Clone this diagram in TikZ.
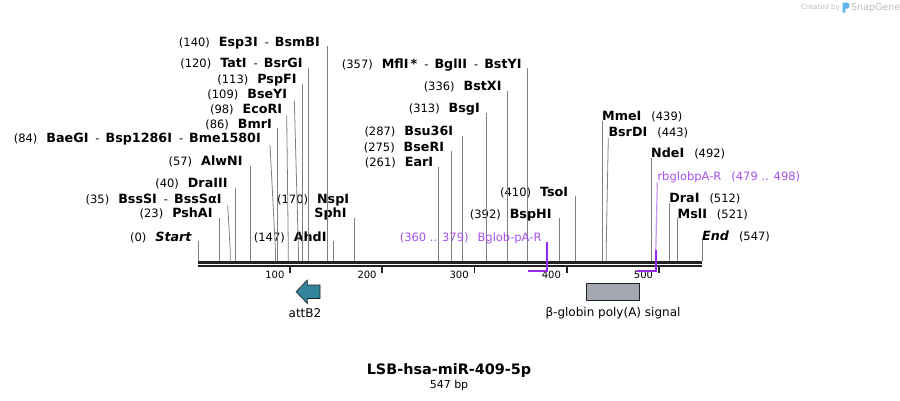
\documentclass[tikz,border=0pt]{standalone}
\usepackage{fontspec}
\setmainfont{DejaVu Sans}
\usepackage{xcolor}
\usepackage{tikz}
\usetikzlibrary{positioning, calc}
\definecolor{sitegray}{RGB}{128,128,128}
\definecolor{barblack}{RGB}{34,34,34}
\definecolor{primerpurple}{RGB}{150,40,235}
\definecolor{primerlabel}{RGB}{168,80,240}
\definecolor{primerlight}{RGB}{200,150,245}
\definecolor{attbteal}{RGB}{49,132,155}
\definecolor{polyagray}{RGB}{163,168,176}
\definecolor{logogray}{RGB}{190,190,190}
\definecolor{logoblue}{RGB}{95,180,235}
\newcommand{\enzgap}{\hspace{9pt}}
\newcommand{\enzgapR}{\hspace{10pt}}
\newcommand{\enzdash}{\hspace{7pt}-\hspace{6pt}}
\newcommand{\enzb}[1]{{\fontsize{12.7}{14}\selectfont\bfseries #1}}

\begin{document}
\begin{tikzpicture}[
    x=1pt, y=-1pt,
    enz/.style={inner sep=0pt, font=\fontsize{11.5}{13}\selectfont},
    enzL/.style={enz, anchor=base east},
    enzR/.style={enz, anchor=base west},
    primerlbl/.style={text=primerlabel},
    cutline/.style={draw=sitegray, line width=0.8pt},
    seqbar/.style={draw=barblack, line width=2.5pt},
    tickmark/.style={draw=barblack, line width=1.8pt},
    ticklbl/.style={inner sep=0pt, anchor=base east, font=\fontsize{10}{12}\selectfont},
    primerline/.style={draw=primerpurple, line width=1.8pt},
    featlbl/.style={inner sep=0pt, font=\fontsize{12}{14}\selectfont}
]
    \useasboundingbox[fill=white] (0,0) rectangle (900,400);

    % Logo
    \node[inner sep=0pt, anchor=east, text=logogray, font=\fontsize{7}{8}\selectfont] (logoa) at (840,7.5) {Created by};
    \fill[logoblue] (842.5,2.5) -- (847.5,2.5) .. controls (850,2.5) and (850,8.5) .. (847.5,8.5) -- (845.3,8.5) -- (845.3,12.5) -- (842.5,12.5) -- cycle;
    \node[inner sep=0pt, anchor=west, text=logogray, font=\fontsize{9.5}{10}\selectfont] (logob) at (851,7.5) {SnapGene};

    % Sequence bar
    \draw[seqbar] (198,262.4) -- (702,262.4);
    \draw[seqbar] (198,266.1) -- (702,266.1);

    % Ruler
    \draw[tickmark] (290.1,267) -- (290.1,272.6);
    \draw[tickmark] (382.3,267) -- (382.3,272.6);
    \draw[tickmark] (474.4,267) -- (474.4,272.6);
    \draw[tickmark] (566.6,267) -- (566.6,272.6);
    \draw[tickmark] (658.7,267) -- (658.7,272.6);
    \node[ticklbl] (t100) at (284.6,278.3) {100};
    \node[ticklbl] (t200) at (376.8,278.3) {200};
    \node[ticklbl] (t300) at (468.9,278.3) {300};
    \node[ticklbl] (t400) at (561.1,278.3) {400};
    \node[ticklbl] (t500) at (653.2,278.3) {500};

    % Cut sites on the bar
    \coordinate (sStart) at (198,261.3);
    \coordinate (sPsh) at (219.2,261.3);
    \coordinate (sBss) at (230.2,261.3);
    \coordinate (sDraIII) at (234.9,261.3);
    \coordinate (sAlw) at (250.5,261.3);
    \coordinate (sBae) at (275.4,261.3);
    \coordinate (sBmr) at (277.2,261.3);
    \coordinate (sEco) at (288.3,261.3);
    \coordinate (sBseY) at (298.4,261.3);
    \coordinate (sPsp) at (302.1,261.3);
    \coordinate (sTat) at (308.6,261.3);
    \coordinate (sEsp) at (327.0,261.3);
    \coordinate (sAhd) at (333.4,261.3);
    \coordinate (sSph) at (354.6,261.3);
    \coordinate (sEar) at (438.5,261.3);
    \coordinate (sBseR) at (451.4,261.3);
    \coordinate (sBsu) at (462.4,261.3);
    \coordinate (sBsg) at (486.4,261.3);
    \coordinate (sBstX) at (507.6,261.3);
    \coordinate (sMfl) at (526.9,261.3);
    \coordinate (sBspH) at (559.2,261.3);
    \coordinate (sTso) at (575.8,261.3);
    \coordinate (sMme) at (602.0,261.3);
    \coordinate (sBsrD) at (606.2,261.3);
    \coordinate (sNde) at (651.0,261.3);
    \coordinate (sDraI) at (669.2,261.3);
    \coordinate (sMsl) at (677.5,261.3);
    \coordinate (sEnd) at (702,261.3);

    % Enzymes, left group
    \node[enzL] (lEsp) at (320,46) {(140)\enzgap\enzb{Esp3I}\enzdash\enzb{BsmBI}};
    \node[enzL] (lTat) at (302.7,67.7) {(120)\enzgap\enzb{TatI}\enzdash\enzb{BsrGI}};
    \node[enzL] (lPsp) at (296.7,83.5) {(113)\enzgap\enzb{PspFI}};
    \node[enzL] (lBseY) at (287.3,98.3) {(109)\enzgap\enzb{BseYI}};
    \node[enzL] (lEco) at (282.3,113.3) {(98)\enzgap\enzb{EcoRI}};
    \node[enzL] (lBmr) at (272,128.3) {(86)\enzgap\enzb{BmrI}};
    \node[enzL] (lBae) at (261,142.7) {(84)\enzgap\enzb{BaeGI}\enzdash\enzb{Bsp1286I}\enzdash\enzb{Bme1580I}};
    \node[enzL] (lAlw) at (242.7,165.7) {(57)\enzgap\enzb{AlwNI}};
    \node[enzL] (lDraIII) at (227.7,187.7) {(40)\enzgap\enzb{DraIII}};
    \node[enzL] (lBss) at (221.7,203) {(35)\enzgap\enzb{BssSI}\enzdash\enzb{BssSαI}};
    \node[enzL] (lPsh) at (212.7,217.7) {(23)\enzgap\enzb{PshAI}};
    \node[enzL] (lStart) at (191.7,241) {(0)\enzgap\enzb{\itshape Start}};
    \node[enzL] (lAhd) at (326.7,241) {(147)\enzgap\enzb{AhdI}};
    \node[enzL] (lNsp) at (349.3,203) {(170)\enzgap\enzb{NspI}};
    \node[enzL] (lSph) at (346.7,217.7) {\enzb{SphI}};

    \draw[cutline] (sEsp |- lEsp.base) -- (sEsp);
    \draw[cutline] (sTat |- lTat.base) -- (sTat);
    \draw[cutline] (sPsp |- lPsp.base) -- (sPsp);
    \draw[cutline] ([xshift=7pt,yshift=-2pt]lBseY.base east) -- ([yshift=12pt]sBseY) -- (sBseY);
    \draw[cutline] ([xshift=4.4pt,yshift=-2pt]lEco.base east) -- ([yshift=12pt]sEco) -- (sEco);
    \draw[cutline] (sBmr |- lBmr.base) -- (sBmr);
    \draw[cutline] ([xshift=9pt,yshift=-2pt]lBae.base east) -- ([yshift=12pt]sBae) -- (sBae);
    \draw[cutline] (sAlw |- lAlw.base) -- (sAlw);
    \draw[cutline] (sDraIII |- lDraIII.base) -- (sDraIII);
    \draw[cutline] ([xshift=6pt,yshift=-2pt]lBss.base east) -- ([yshift=12pt]sBss) -- (sBss);
    \draw[cutline] (sPsh |- lPsh.base) -- (sPsh);
    \draw[cutline] (sStart |- lStart.base) -- (sStart);
    \draw[cutline] (sAhd |- lAhd.base) -- (sAhd);
    \draw[cutline] (sSph |- lSph.base) -- (sSph);

    % Enzymes, middle group
    \node[enzL] (lMfl) at (521.7,68.3) {(357)\enzgap\enzb{MflI\,*}\enzdash\enzb{BglII}\enzdash\enzb{BstYI}};
    \node[enzL] (lBstX) at (501.7,90.7) {(336)\enzgap\enzb{BstXI}};
    \node[enzL] (lBsg) at (480,112.7) {(313)\enzgap\enzb{BsgI}};
    \node[enzL] (lBsu) at (453.3,135.7) {(287)\enzgap\enzb{Bsu36I}};
    \node[enzL] (lBseR) at (444.3,151) {(275)\enzgap\enzb{BseRI}};
    \node[enzL] (lEar) at (433.3,166.7) {(261)\enzgap\enzb{EarI}};
    \node[enzL] (lTso) at (568.3,196) {(410)\enzgap\enzb{TsoI}};
    \node[enzL] (lBspH) at (551.7,218.3) {(392)\enzgap\enzb{BspHI}};

    \draw[cutline] (sMfl |- lMfl.base) -- (sMfl);
    \draw[cutline] (sBstX |- lBstX.base) -- (sBstX);
    \draw[cutline] (sBsg |- lBsg.base) -- (sBsg);
    \draw[cutline] (sBsu |- lBsu.base) -- (sBsu);
    \draw[cutline] (sBseR |- lBseR.base) -- (sBseR);
    \draw[cutline] (sEar |- lEar.base) -- (sEar);
    \draw[cutline] (sTso |- lTso.base) -- (sTso);
    \draw[cutline] (sBspH |- lBspH.base) -- (sBspH);

    % Enzymes, right group
    \node[enzR] (lMme) at (602,120.7) {\enzb{MmeI}\enzgapR(439)};
    \node[enzR] (lBsrD) at (608.3,136) {\enzb{BsrDI}\enzgapR(443)};
    \node[enzR] (lNde) at (651,157.7) {\enzb{NdeI}\enzgapR(492)};
    \node[enzR] (lDraI) at (669.2,202.7) {\enzb{DraI}\enzgapR(512)};
    \node[enzR] (lMsl) at (677.5,218.3) {\enzb{MslI}\enzgapR(521)};
    \node[enzR] (lEnd) at (702,240) {\enzb{\itshape End}\enzgapR(547)};

    \draw[cutline] (sMme |- lMme.base) -- (sMme);
    \draw[cutline] ([yshift=-2pt]lBsrD.base west) -- ([yshift=12pt]sBsrD) -- (sBsrD);
    \draw[cutline] (sNde |- lNde.base) -- (sNde);
    \draw[cutline] (sDraI |- lDraI.base) -- (sDraI);
    \draw[cutline] (sMsl |- lMsl.base) -- (sMsl);
    \draw[cutline] (sEnd |- lEnd.base) -- (sEnd);

    % Primers
    \node[enzL, primerlbl] (lBglob) at (541.7,241) {(360 .. 379)\enzgap Bglob-pA-R};
    \node[enzR, primerlbl] (lRb) at (657.3,180.5) {rbglobpA-R\enzgapR(479 .. 498)};
    \coordinate (pBglobL) at (528.3,271);
    \coordinate (pBglobR) at (546.9,271);
    \coordinate (pRbL) at (636.7,271);
    \coordinate (pRbR) at (655.8,271);
    \coordinate (pRbTop) at (655.8,250);
    \draw[primerline] (pBglobL) -- (pBglobR) -- ([yshift=-1pt]pBglobR |- lBglob.base);
    \draw[primerline] (pRbL) -- (pRbR) -- (pRbTop);
    \draw[draw=primerlight, line width=1.2pt] (pRbTop) -- ([yshift=-2pt]lRb.base west);

    % Features
    \filldraw[fill=attbteal, draw=barblack, line width=0.6pt] (296,291.7) -- (307.3,280) -- (307.3,285) -- (320,285) -- (320,298.5) -- (307.3,298.5) -- (307.3,303.5) -- cycle;
    \node[featlbl] (lattB2) at (305,313) {attB2};
    \node[draw=barblack, line width=0.6pt, fill=polyagray, minimum width=52.6pt, minimum height=17.4pt, inner sep=0pt] (polyA) at (613,292) {};
    \node[featlbl, below=6pt of polyA] (lpolyA) {β-globin poly(A) signal};

    % Title
    \node[inner sep=0pt, anchor=base, font=\fontsize{14.4}{17}\selectfont\bfseries] (title) at (449,374.5) {LSB-hsa-miR-409-5p};
    \node[inner sep=0pt, anchor=base, font=\fontsize{11}{13}\selectfont] (size) at (449,388.5) {547 bp};
\end{tikzpicture}
\end{document}
